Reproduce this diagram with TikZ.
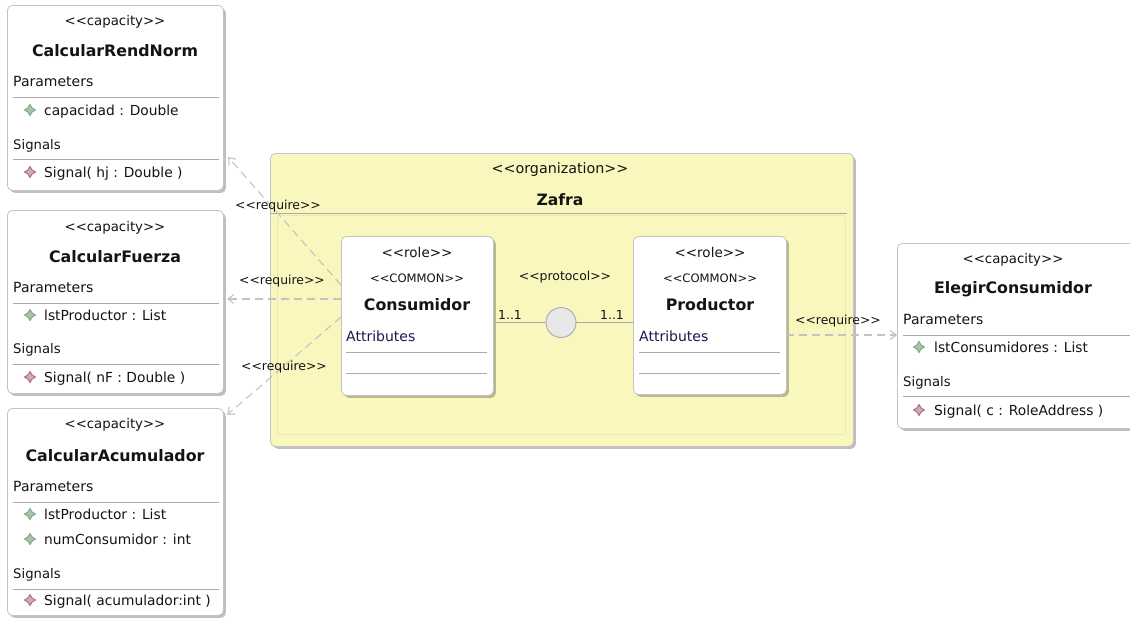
\documentclass[tikz,border=0pt]{standalone}
\usepackage{fontspec}
\setmainfont{DejaVu Sans}[Ligatures=TeXOff]
\usetikzlibrary{arrows.meta,shadows}
\definecolor{bordergray}{RGB}{195,195,195}
\definecolor{orgfill}{RGB}{249,246,190}
\definecolor{orginner}{RGB}{236,232,176}
\definecolor{linegray}{RGB}{170,170,170}
\definecolor{dashgray}{RGB}{195,195,195}
\definecolor{paramgreen}{RGB}{110,180,110}
\definecolor{signalpink}{RGB}{200,90,140}
\definecolor{attrblue}{RGB}{25,25,80}
\definecolor{txt}{RGB}{20,20,20}
\begin{document}
\begin{tikzpicture}[x=1pt,y=-1pt,
  box/.style={draw=bordergray, fill=white, rounded corners=5pt, line width=0.8pt,
    drop shadow={shadow xshift=2.5pt, shadow yshift=-2.5pt, fill=black, opacity=0.25},
    anchor=north west, inner sep=0pt},
  orgbox/.style={draw=bordergray, fill=orgfill, rounded corners=5pt, line width=0.8pt,
    drop shadow={shadow xshift=2.5pt, shadow yshift=-2.5pt, fill=black, opacity=0.25},
    anchor=north west, inner sep=0pt},
  innerbox/.style={draw=orginner, rounded corners=3pt, line width=0.8pt, anchor=north west, inner sep=0pt},
  stereo/.style={anchor=base, inner sep=0pt, font=\fontsize{13.3}{15}\selectfont, text=txt},
  bname/.style={anchor=base, inner sep=0pt, font=\fontsize{15.8}{18}\selectfont\bfseries, text=txt},
  sect/.style={anchor=base west, inner sep=0pt, font=\fontsize{14}{16}\selectfont, text=txt},
  lbl/.style={anchor=base west, inner sep=0pt, font=\fontsize{13.2}{15}\selectfont, text=txt},
  item/.style={anchor=base west, inner sep=0pt, font=\fontsize{13.8}{16}\selectfont, text=txt},
  rolest/.style={anchor=base, inner sep=0pt, font=\fontsize{13.5}{16}\selectfont, text=txt},
  common/.style={anchor=base, inner sep=0pt, font=\fontsize{11.6}{14}\selectfont, text=txt},
  req/.style={anchor=base, inner sep=0pt, font=\fontsize{12.4}{14}\selectfont, text=txt},
  mult/.style={anchor=base west, inner sep=0pt, font=\fontsize{12.4}{14}\selectfont, text=txt},
  sep/.style={draw=linegray, line width=0.8pt},
  dep/.style={draw=dashgray, line width=1.1pt, dash pattern=on 8pt off 5pt,
    -{Straight Barb[length=6pt,width=9pt,line width=1.1pt]}},
  picon/.pic={\path[fill=gray!55, draw=paramgreen, line width=1pt, line join=round] (0,-5.5)--(2,-2)--(5.5,0)--(2,2)--(0,5.5)--(-2,2)--(-5.5,0)--(-2,-2)--cycle;},
  sicon/.pic={\path[fill=gray!55, draw=signalpink, line width=1pt, line join=round] (0,-5.5)--(2,-2)--(5.5,0)--(2,2)--(0,5.5)--(-2,2)--(-5.5,0)--(-2,-2)--cycle;}
]
\useasboundingbox (0,0) rectangle (1130,619);

% ---------- CalcularRendNorm ----------
\node[box, minimum width=216pt, minimum height=185pt] (crn) at (7,5) {};
\node[stereo] (crnst) at (115,25) {<<capacity>>};
\node[bname] (crnname) at (115,56) {CalcularRendNorm};
\node[sect] (crnpar) at (13,86) {Parameters};
\draw[sep] (13,97) -- (219,97);
\pic at (30,110) {picon};
\node[item] (crnp1) at (44,115) {capacidad : Double};
\node[lbl] (crnsig) at (13,149) {Signals};
\draw[sep] (13,159) -- (219,159);
\pic at (30,172) {sicon};
\node[item] (crns1) at (44,177) {Signal( hj : Double )};

% ---------- CalcularFuerza ----------
\node[box, minimum width=216pt, minimum height=183pt] (cf) at (7,210) {};
\node[stereo] (cfst) at (115,231) {<<capacity>>};
\node[bname] (cfname) at (115,262) {CalcularFuerza};
\node[sect] (cfpar) at (13,292) {Parameters};
\draw[sep] (13,303) -- (219,303);
\pic at (30,315) {picon};
\node[item] (cfp1) at (44,320) {lstProductor : List};
\node[lbl] (cfsig) at (13,353) {Signals};
\draw[sep] (13,364) -- (219,364);
\pic at (30,377) {sicon};
\node[item] (cfs1) at (44,382) {Signal( nF : Double )};

% ---------- CalcularAcumulador ----------
\node[box, minimum width=216pt, minimum height=207pt] (ca) at (7,408) {};
\node[stereo] (cast) at (115,428) {<<capacity>>};
\node[bname] (caname) at (115,461) {CalcularAcumulador};
\node[sect] (capar) at (13,491) {Parameters};
\draw[sep] (13,502) -- (219,502);
\pic at (30,514) {picon};
\node[item] (cap1) at (44,519) {lstProductor : List};
\pic at (30,539) {picon};
\node[item] (cap2) at (44,544) {numConsumidor : int};
\node[lbl] (casig) at (13,578) {Signals};
\draw[sep] (13,589) -- (219,589);
\pic at (30,600) {sicon};
\node[item] (cas1) at (44,605) {Signal( acumulador:int )};

% ---------- Organization Zafra ----------
\node[orgbox, minimum width=583pt, minimum height=293pt] (org) at (270,153) {};
\node[stereo, font=\fontsize{14.3}{16}\selectfont] (orgst) at (560,173) {<<organization>>};
\node[bname, font=\fontsize{15.6}{18}\selectfont\bfseries] (orgname) at (560,205) {Zafra};
\draw[sep] (271,213) -- (847,213);
\node[innerbox, minimum width=568pt, minimum height=219pt] (orgin) at (277,215) {};

% ---------- Consumidor ----------
\node[box, minimum width=152pt, minimum height=159pt] (cons) at (341,236) {};
\node[rolest] (consst) at (417,257) {<<role>>};
\node[common] (conscm) at (417,282) {<<COMMON>>};
\node[bname] (consname) at (417,310) {Consumidor};
\node[sect, text=attrblue] (consattr) at (346,341) {Attributes};
\draw[sep] (346,352) -- (487,352);
\draw[sep] (346,373) -- (487,373);

% ---------- Productor ----------
\node[box, minimum width=153pt, minimum height=158pt] (prod) at (633,236) {};
\node[rolest] (prodst) at (710,257) {<<role>>};
\node[common] (prodcm) at (710,282) {<<COMMON>>};
\node[bname] (prodname) at (710,310) {Productor};
\node[sect, text=attrblue] (prodattr) at (639,341) {Attributes};
\draw[sep] (639,352) -- (780,352);
\draw[sep] (639,373) -- (780,373);

% ---------- Protocol ----------
\node[circle, draw=linegray, fill=gray!18, line width=0.9pt, minimum size=30pt, inner sep=0pt] (proto) at (561,322.5) {};
\node[req] (protolbl) at (565,280) {<<protocol>>};
\draw[sep] (cons.east |- proto) -- (proto.west);
\draw[sep] (proto.east) -- (prod.west |- proto);
\node[mult] (m1) at (498,319) {1..1};
\node[mult] (m2) at (600,319) {1..1};

% ---------- ElegirConsumidor ----------
\node[box, minimum width=240pt, minimum height=185pt] (ec) at (897,243) {};
\node[stereo] (ecst) at (1013,263) {<<capacity>>};
\node[bname] (ecname) at (1013,293) {ElegirConsumidor};
\node[sect] (ecpar) at (903,324) {Parameters};
\draw[sep] (903,335) -- (1130,335);
\pic at (919,347) {picon};
\node[item] (ecp1) at (934,352) {lstConsumidores : List};
\node[lbl] (ecsig) at (903,386) {Signals};
\draw[sep] (903,396) -- (1130,396);
\pic at (919,410) {sicon};
\node[item] (ecs1) at (934,415) {Signal( c : RoleAddress )};

% ---------- require dependencies ----------
\coordinate (d1s) at (341,285);
\coordinate (d1e) at (228,157);
\coordinate (d2s) at (341,299);
\coordinate (d2e) at (227,299);
\coordinate (d3s) at (341,317);
\coordinate (d3e) at (227,415);
\coordinate (d4s) at (786,335);
\coordinate (d4e) at (897,335);
\draw[dep] (d1s) -- (d1e);
\draw[dep] (d2s) -- (d2e);
\draw[dep] (d3s) -- (d3e);
\draw[dep] (d4s) -- (d4e);
\node[req] (r1) at (278,209) {<<require>>};
\node[req] (r2) at (282,284) {<<require>>};
\node[req] (r3) at (284,370) {<<require>>};
\node[req] (r4) at (838,324) {<<require>>};
\end{tikzpicture}
\end{document}
